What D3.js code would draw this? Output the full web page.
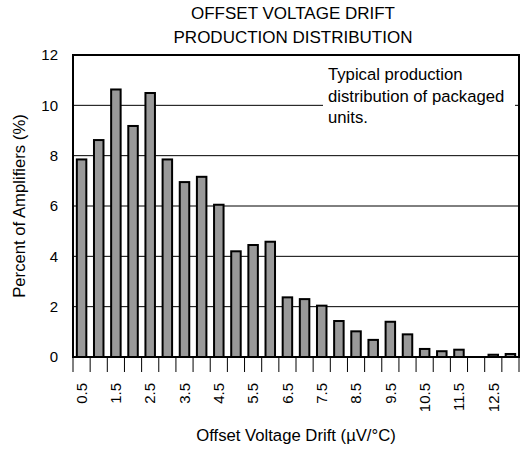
<!DOCTYPE html>
<html>
<head>
<meta charset="utf-8">
<script src="https://cdn.jsdelivr.net/npm/d3@7/dist/d3.min.js"></script>
<style>
  html, body { margin: 0; padding: 0; background: #fff; }
  svg { display: block; }
  text { font-family: "Liberation Sans", Arial, Helvetica, sans-serif; fill: #000; }
</style>
</head>
<body>
<svg id="chart" width="521" height="449"></svg>
<script>
// Data
const categories = ["0.5","1.0","1.5","2.0","2.5","3.0","3.5","4.0","4.5","5.0","5.5","6.0","6.5",
                    "7.0","7.5","8.0","8.5","9.0","9.5","10.0","10.5","11.0","11.5","12.0","12.5","13.0"];
const percentValues = [7.85, 8.62, 10.63, 9.18, 10.49, 7.85, 6.95, 7.16, 6.05, 4.2, 4.45, 4.58, 2.37,
                       2.3, 2.04, 1.43, 1.02, 0.68, 1.4, 0.9, 0.32, 0.23, 0.29, 0, 0.09, 0.12];
const xTickLabels = ["0.5","1.5","2.5","3.5","4.5","5.5","6.5","7.5","8.5","9.5","10.5","11.5","12.5"];
const yTicks = [0, 2, 4, 6, 8, 10, 12];
const titleLines = ["OFFSET VOLTAGE DRIFT", "PRODUCTION DISTRIBUTION"];
const noteLines = ["Typical production", "distribution of packaged", "units."];

const svg = d3.select("#chart");
const L = 73, R = 519, T = 55, B = 357;

const x = d3.scaleBand().domain(categories).range([L, R]).padding(0);
const y = d3.scaleLinear().domain([0, 12]).range([B, T]);
const barW = 9.5;

// gridlines
svg.append("g").selectAll("line").data(yTicks.filter(d => d > 0 && d < 12)).join("line")
  .attr("x1", L).attr("x2", R).attr("y1", d => y(d)).attr("y2", d => y(d))
  .attr("stroke", "#000").attr("stroke-width", 1);

// annotation background
svg.append("rect").attr("x", 323).attr("y", 58).attr("width", 192).attr("height", 68).attr("fill", "#fff");

// bars
svg.append("g").selectAll("rect").data(categories.map((c, i) => ({c, v: percentValues[i]})).filter(d => d.v > 0)).join("rect")
  .attr("x", d => x(d.c) + x.bandwidth() / 2 - barW / 2)
  .attr("width", barW)
  .attr("y", d => y(d.v))
  .attr("height", d => y(0) - y(d.v))
  .attr("fill", "#999999").attr("stroke", "#000").attr("stroke-width", 2);

// frame
svg.append("rect").attr("x", L).attr("y", T).attr("width", R - L).attr("height", B - T)
  .attr("fill", "none").attr("stroke", "#000").attr("stroke-width", 2);

// x ticks at band boundaries
const bounds = categories.map(c => x(c)).concat([R]);
svg.append("g").selectAll("line").data(bounds).join("line")
  .attr("x1", d => d).attr("x2", d => d).attr("y1", B).attr("y2", B + 15)
  .attr("stroke", "#000").attr("stroke-width", 1);

// x tick labels
svg.append("g").selectAll("text").data(xTickLabels).join("text")
  .attr("transform", d => `translate(${x(d) + x.bandwidth() / 2},383) rotate(-90)`)
  .attr("dy", "0.35em").attr("text-anchor", "end").attr("font-size", 15).text(d => d);

// y tick labels
svg.append("g").selectAll("text").data(yTicks).join("text")
  .attr("x", 58).attr("y", d => y(d)).attr("dy", "0.35em").attr("text-anchor", "end")
  .attr("font-size", 15).text(d => d);

// titles
svg.append("g").selectAll("text").data(titleLines).join("text")
  .attr("x", 293).attr("y", (d, i) => 19 + i * 23.5).attr("text-anchor", "middle")
  .attr("font-size", 17).text(d => d);

// note
svg.append("g").selectAll("text").data(noteLines).join("text")
  .attr("x", 328).attr("y", (d, i) => 80 + i * 21.5)
  .attr("font-size", 16.7).text(d => d);

// axis titles
svg.append("text").attr("x", 296).attr("y", 441).attr("text-anchor", "middle")
  .attr("font-size", 16.7).text("Offset Voltage Drift (\u00B5V/\u00B0C)");
svg.append("text").attr("transform", "translate(25,206) rotate(-90)").attr("text-anchor", "middle")
  .attr("font-size", 16.7).text("Percent of Amplifiers (%)");
</script>
</body>
</html>
